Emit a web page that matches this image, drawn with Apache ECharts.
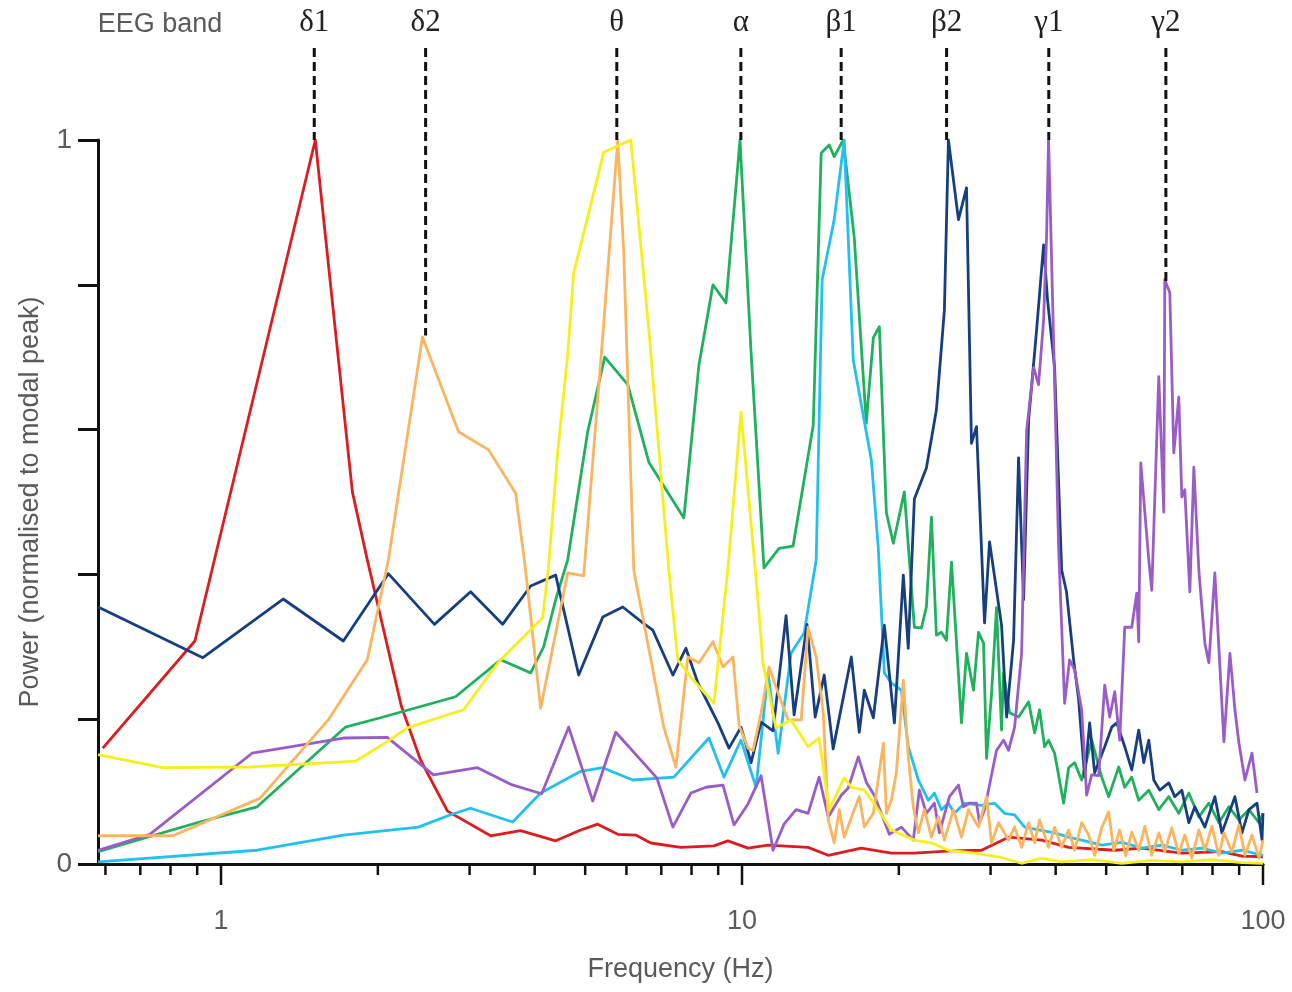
<!DOCTYPE html>
<html>
<head>
<meta charset="utf-8">
<title>EEG band spectra</title>
<script src="https://cdn.jsdelivr.net/npm/echarts@6/dist/echarts.min.js"></script>
<style>
  html, body { margin: 0; padding: 0; background: #fff; }
  #chart { width: 1292px; height: 992px; }
</style>
</head>
<body>
<div id="chart"></div>
<script>
// frequency (Hz) and normalised power, one pair of arrays per trace
const redHz = [0.593, 0.891, 1.517, 1.787, 1.909, 2.219, 2.414, 2.721, 3.292, 3.758, 4.389, 4.902, 5.285, 5.774, 6.254, 6.683, 7.632, 8.833, 9.398, 10.27, 11.22, 13.39, 14.64, 16.94, 19.35, 21.42, 25.24, 28.82, 32.48, 37.58, 42.35, 51.93, 58.52, 69.85, 83.4, 91.12, 100];
const redPow = [0.160, 0.308, 1.0, 0.514, 0.420, 0.218, 0.144, 0.073, 0.039, 0.046, 0.032, 0.047, 0.055, 0.041, 0.040, 0.029, 0.023, 0.025, 0.032, 0.022, 0.026, 0.023, 0.012, 0.022, 0.015, 0.015, 0.018, 0.019, 0.037, 0.033, 0.023, 0.019, 0.022, 0.015, 0.017, 0.011, 0.010];

const navyHz = [0.581, 0.923, 1.316, 1.717, 2.095, 2.568, 3.013, 3.471, 3.929, 4.389,
  4.859, 5.404, 5.904, 6.451, 6.742, 7.367, 7.803, 8.229, 8.991, 9.441,
  9.956, 10.41, 10.88, 11.47, 12.15, 12.59, 13.33, 13.82, 14.38, 14.96,
  16.21, 16.79, 17.17, 17.87, 18.76, 19.61, 20.40, 20.85, 21.42, 22.59,
  23.61, 24.46, 24.90, 26.03, 26.97, 27.57, 28.19, 29.21, 29.86, 31.49,
  32.20, 33.21, 33.95, 34.71, 35.49, 36.77, 37.92, 38.59, 39.81, 41.07,
  41.96, 43.30, 44.27, 45.47, 46.48, 47.52, 49.68, 51.24, 52.39, 54.28,
  55.99, 57.74, 59.04, 60.36, 61.71, 63.37, 65.94, 67.72, 69.85, 72.05,
  73.99, 77.34, 80.84, 83.40, 88.33, 91.12, 93.98, 97.38, 99.56, 100];
const navyPow = [0.355, 0.285, 0.366, 0.308, 0.401, 0.331, 0.376, 0.331, 0.384, 0.399,
  0.261, 0.341, 0.355, 0.333, 0.323, 0.261, 0.298, 0.250, 0.195, 0.160,
  0.189, 0.140, 0.196, 0.184, 0.343, 0.206, 0.331, 0.203, 0.261, 0.159,
  0.286, 0.182, 0.240, 0.202, 0.330, 0.195, 0.399, 0.298, 0.504, 0.547,
  0.627, 0.765, 1.0, 0.890, 0.934, 0.581, 0.604, 0.333, 0.445, 0.330,
  0.203, 0.309, 0.561, 0.365, 0.613, 0.738, 0.855, 0.779, 0.686, 0.406,
  0.376, 0.282, 0.227, 0.120, 0.195, 0.126, 0.162, 0.189, 0.195, 0.162,
  0.130, 0.185, 0.140, 0.171, 0.116, 0.102, 0.112, 0.093, 0.102, 0.057,
  0.079, 0.051, 0.093, 0.043, 0.093, 0.043, 0.075, 0.084, 0.033, 0.070];

const greenHz = [0.581, 0.899, 1.173, 1.732, 2.023, 2.819, 3.441, 3.929, 4.161, 4.389,
  4.628, 5.056, 5.451, 6.036, 6.624, 7.734, 8.266, 8.794, 9.316, 9.912,
  10.41, 11.02, 11.78, 12.53, 13.70, 14.19, 14.70, 15.03, 15.64, 16.42,
  17.32, 17.87, 18.35, 18.93, 19.52, 20.49, 21.42, 22.10, 22.59, 23.10,
  23.61, 24.14, 24.68, 25.24, 26.38, 26.97, 27.82, 28.44, 29.08, 29.47,
  30.13, 30.80, 31.49, 31.77, 32.63, 33.95, 35.49, 36.45, 37.25, 38.08,
  38.76, 39.81, 41.43, 42.35, 43.49, 44.87, 46.90, 49.02, 50.56, 52.85,
  54.28, 55.99, 57.74, 60.36, 63.09, 65.94, 68.92, 72.05, 75.31, 78.72,
  82.29, 86.01, 89.91, 93.98, 98.24, 100];
const greenPow = [0.017, 0.057, 0.079, 0.189, 0.202, 0.231, 0.282, 0.264, 0.300, 0.365,
  0.420, 0.597, 0.700, 0.662, 0.555, 0.478, 0.689, 0.800, 0.775, 1.0,
  0.706, 0.409, 0.436, 0.439, 0.606, 0.982, 0.993, 0.977, 1.0, 0.866,
  0.609, 0.727, 0.742, 0.485, 0.443, 0.514, 0.327, 0.326, 0.355, 0.479,
  0.316, 0.320, 0.309, 0.417, 0.195, 0.291, 0.240, 0.320, 0.305, 0.146,
  0.236, 0.354, 0.185, 0.264, 0.209, 0.203, 0.224, 0.181, 0.213, 0.162,
  0.171, 0.153, 0.084, 0.133, 0.140, 0.116, 0.171, 0.120, 0.093, 0.134,
  0.106, 0.120, 0.088, 0.102, 0.075, 0.093, 0.070, 0.098, 0.065, 0.084,
  0.057, 0.079, 0.061, 0.075, 0.057, 0.070];

const yellowHz = [0.581, 0.773, 1.137, 1.811, 2.085, 2.279, 2.638, 2.921, 3.411, 4.143,
  4.254, 4.427, 4.628, 4.752, 4.859, 5.428, 6.117, 6.624, 7.237, 7.530,
  7.978, 8.833, 9.398, 9.956, 10.73, 10.97, 11.62, 12.42, 13.39, 14.06,
  14.70, 15.71, 16.21, 17.17, 18.26, 19.35, 21.42, 23.10, 24.90, 27.94,
  31.07, 34.41, 37.58, 41.07, 46.90, 53.57, 61.17, 69.85, 79.78, 91.12, 100];
const yellowPow = [0.151, 0.133, 0.134, 0.142, 0.169, 0.188, 0.203, 0.213, 0.279, 0.340,
  0.412, 0.568, 0.703, 0.816, 0.844, 0.983, 1.0, 0.738, 0.406, 0.282,
  0.258, 0.222, 0.409, 0.624, 0.365, 0.278, 0.188, 0.199, 0.162, 0.174,
  0.075, 0.119, 0.106, 0.102, 0.075, 0.047, 0.033, 0.029, 0.019, 0.015,
  0.010, 0.001, 0.008, 0.003, 0.006, 0.001, 0.005, 0.003, 0.006, 0.002, 0.001];

const orangeHz = [0.581, 0.809, 1.189, 1.606, 1.909, 2.095, 2.436, 2.857, 3.263, 3.677,
  3.843, 4.107, 4.628, 4.967, 5.428, 5.774, 5.930, 6.198, 7.078, 7.466,
  7.872, 8.266, 8.794, 9.193, 9.609, 9.868, 10.27, 10.50, 10.88, 11.27,
  11.73, 12.26, 12.99, 13.39, 13.88, 14.32, 14.64, 15.03, 15.37, 15.71,
  16.42, 16.79, 17.17, 17.87, 18.68, 18.93, 19.35, 19.78, 20.40, 20.85,
  21.32, 21.80, 22.39, 23.10, 23.82, 24.46, 25.46, 26.38, 27.21, 28.44,
  29.47, 30.13, 31.07, 32.48, 33.36, 34.41, 35.49, 36.45, 37.25, 38.76,
  39.81, 41.07, 42.35, 43.49, 44.87, 46.28, 47.52, 49.02, 50.56, 51.70,
  53.09, 54.51, 55.99, 57.74, 59.30, 61.17, 63.09, 64.79, 66.83, 68.92,
  70.78, 73.02, 75.31, 77.34, 79.78, 82.29, 84.14, 87.17, 89.91, 92.33,
  95.25, 98.24, 100];
const orangePow = [0.039, 0.039, 0.091, 0.199, 0.282, 0.420, 0.728, 0.597, 0.572, 0.512,
  0.406, 0.215, 0.402, 0.398, 0.747, 1.0, 0.844, 0.406, 0.189, 0.134,
  0.286, 0.278, 0.307, 0.272, 0.286, 0.192, 0.160, 0.157, 0.209, 0.272,
  0.236, 0.199, 0.199, 0.327, 0.286, 0.209, 0.061, 0.029, 0.075, 0.037,
  0.075, 0.093, 0.051, 0.070, 0.167, 0.070, 0.088, 0.126, 0.254, 0.148,
  0.079, 0.043, 0.075, 0.037, 0.065, 0.033, 0.075, 0.037, 0.075, 0.051,
  0.093, 0.029, 0.057, 0.033, 0.051, 0.023, 0.057, 0.029, 0.061, 0.023,
  0.051, 0.023, 0.047, 0.019, 0.057, 0.040, 0.012, 0.050, 0.072, 0.019,
  0.047, 0.011, 0.044, 0.019, 0.052, 0.012, 0.043, 0.017, 0.050, 0.014,
  0.040, 0.008, 0.047, 0.019, 0.052, 0.012, 0.043, 0.017, 0.054, 0.012,
  0.040, 0.008, 0.033];

const cyanHz = [0.581, 1.173, 1.717, 2.393, 2.757, 3.013, 3.629, 4.107, 4.902, 5.404,
  6.171, 7.399, 8.640, 9.233, 9.956, 10.64, 11.22, 11.73, 12.42, 13.16,
  13.88, 14.25, 15.03, 15.71, 16.35, 17.71, 18.26, 18.76, 19.35, 20.23,
  20.85, 21.80, 22.79, 23.40, 24.14, 24.90, 25.57, 26.73, 28.82, 30.53,
  31.91, 33.36, 34.87, 37.08, 39.81, 42.35, 44.87, 49.02, 53.57, 58.52,
  63.94, 69.85, 76.32, 83.40, 91.12, 100];
const cyanPow = [0.003, 0.019, 0.040, 0.051, 0.068, 0.077, 0.058, 0.098, 0.128, 0.133,
  0.116, 0.120, 0.174, 0.120, 0.171, 0.106, 0.264, 0.153, 0.291, 0.319,
  0.420, 0.807, 0.890, 1.0, 0.696, 0.558, 0.438, 0.264, 0.250, 0.240,
  0.162, 0.116, 0.088, 0.098, 0.075, 0.084, 0.070, 0.084, 0.081, 0.084,
  0.070, 0.068, 0.051, 0.047, 0.043, 0.037, 0.033, 0.026, 0.030, 0.022,
  0.026, 0.019, 0.022, 0.015, 0.019, 0.012];

const purpleHz = [0.581, 0.730, 1.147, 1.717, 2.085, 2.557, 3.107, 3.597, 4.125, 4.648,
  5.170, 5.724, 6.863, 7.367, 7.978, 8.527, 9.193, 9.652, 10.27, 10.88,
  11.47, 12.04, 12.70, 13.39, 14.06, 14.64, 15.51, 15.99, 16.72, 17.32,
  17.94, 19.18, 20.23, 21.32, 21.90, 22.59, 23.40, 23.93, 25.01, 26.03,
  26.61, 27.33, 28.19, 28.57, 29.21, 30.80, 31.77, 32.48, 33.36, 34.41,
  35.18, 36.29, 37.08, 37.92, 38.43, 38.76, 39.11, 39.63, 40.52, 41.61,
  42.54, 43.49, 44.87, 45.87, 46.90, 48.37, 49.68, 50.79, 51.93, 53.09,
  54.28, 55.99, 57.24, 57.74, 58.26, 60.36, 61.17, 63.09, 64.51, 64.79,
  66.24, 67.42, 68.92, 69.85, 70.78, 72.37, 73.67, 75.31, 77.34, 78.72,
  80.84, 82.66, 84.14, 86.40, 88.33, 89.91, 92.33, 95.25, 97.38];
const purplePow = [0.019, 0.041, 0.153, 0.174, 0.175, 0.123, 0.133, 0.110, 0.097, 0.189,
  0.087, 0.182, 0.119, 0.051, 0.098, 0.106, 0.109, 0.054, 0.083, 0.122,
  0.019, 0.055, 0.075, 0.070, 0.120, 0.065, 0.095, 0.105, 0.148, 0.113,
  0.095, 0.041, 0.051, 0.033, 0.102, 0.070, 0.084, 0.043, 0.093, 0.109,
  0.079, 0.084, 0.084, 0.057, 0.075, 0.157, 0.171, 0.157, 0.189, 0.291,
  0.599, 0.686, 0.662, 0.751, 0.869, 1.0, 0.890, 0.724, 0.438, 0.222,
  0.282, 0.268, 0.213, 0.095, 0.123, 0.122, 0.247, 0.203, 0.238, 0.171,
  0.327, 0.327, 0.374, 0.307, 0.554, 0.420, 0.378, 0.673, 0.486, 0.807,
  0.789, 0.568, 0.645, 0.507, 0.517, 0.376, 0.548, 0.406, 0.305, 0.278,
  0.402, 0.272, 0.169, 0.291, 0.213, 0.167, 0.116, 0.153, 0.098];

// EEG band markers: name, centre frequency and the peak the dashed line drops to
const bandNames = ['δ1', 'δ2', 'θ', 'α', 'β1', 'β2', 'γ1', 'γ2'];
const bandHz = [1.51, 2.47, 5.75, 9.95, 15.5, 24.7, 38.8, 65.1];
const bandPeak = [1, 0.73, 1, 1, 1, 1, 1, 0.8];

// x axis ticks
const majorTicks = [1, 10, 100];
const minorTicks = [0.6, 0.7, 0.8, 0.9, 2, 3, 4, 5, 6, 7, 8, 9, 20, 30, 40, 50, 60, 70, 80, 90];

const sans = '"Liberation Sans", Arial, sans-serif';
const textGrey = '#5a5a5a';

function pairs(hz, pow) {
  return hz.map((f, i) => [f, pow[i]]);
}

function spectrum(name, hz, pow, color) {
  return {
    name: name,
    type: 'line',
    data: pairs(hz, pow),
    symbol: 'none',
    showSymbol: false,
    lineStyle: { color: color, width: 2.8, join: 'round' },
    itemStyle: { color: color },
    z: 3
  };
}

const chart = echarts.init(document.getElementById('chart'));

const option = {
  animation: false,
  backgroundColor: '#fff',
  grid: { left: 98, right: 29, top: 140, bottom: 128 },
  xAxis: {
    type: 'log',
    logBase: 10,
    min: 0.5806,
    max: 100,
    axisLine: { show: true, onZero: false, lineStyle: { color: '#111', width: 3 } },
    axisTick: { show: false },
    splitLine: { show: false },
    axisLabel: {
      margin: 44,
      fontSize: 27,
      fontFamily: sans,
      color: textGrey,
      formatter: function (v) {
        const hit = majorTicks.find(m => Math.abs(v - m) < m * 1e-6);
        return hit ? String(hit) : '';
      }
    },
    name: 'Frequency (Hz)',
    nameLocation: 'middle',
    nameGap: 92,
    nameTextStyle: { fontSize: 27, fontFamily: sans, color: textGrey }
  },
  yAxis: {
    type: 'value',
    min: 0,
    max: 1,
    interval: 0.2,
    axisLine: { show: true, onZero: false, lineStyle: { color: '#111', width: 3 } },
    axisTick: { show: true, length: 20, lineStyle: { color: '#111', width: 3 } },
    splitLine: { show: false },
    axisLabel: {
      margin: 26,
      fontSize: 28,
      fontFamily: sans,
      color: textGrey,
      formatter: function (v) {
        return (v === 0 || v === 1) ? String(v) : '';
      }
    },
    name: 'Power (normalised to modal peak)',
    nameLocation: 'middle',
    nameRotate: 90,
    nameGap: 54,
    nameTextStyle: { fontSize: 27, fontFamily: sans, color: textGrey }
  },
  graphic: [{
    type: 'text',
    x: 160,
    y: 25,
    style: {
      text: 'EEG band',
      font: '27px ' + sans,
      fill: textGrey,
      align: 'center',
      verticalAlign: 'middle'
    }
  }],
  series: [
    spectrum('red', redHz, redPow, '#dc1c1f'),
    spectrum('green', greenHz, greenPow, '#1fb15c'),
    spectrum('cyan', cyanHz, cyanPow, '#22c0ef'),
    spectrum('navy', navyHz, navyPow, '#173f80'),
    spectrum('purple', purpleHz, purplePow, '#9a5cc6'),
    spectrum('orange', orangeHz, orangePow, '#fbb55f'),
    spectrum('yellow', yellowHz, yellowPow, '#f6ef1e'),
    {
      // log-axis ticks: long at decades, short in between
      type: 'custom',
      silent: true,
      clip: false,
      z: 1,
      data: minorTicks.concat(majorTicks).map(f => [f, 0]),
      renderItem: function (params, api) {
        const f = api.value(0);
        const p = api.coord([f, 0]);
        const len = majorTicks.indexOf(f) >= 0 ? 21 : 11;
        return {
          type: 'line',
          shape: { x1: p[0], y1: p[1], x2: p[0], y2: p[1] + len },
          style: { stroke: '#111', lineWidth: 2.5 }
        };
      }
    },
    {
      // dashed band markers with their labels above the plot
      type: 'custom',
      silent: true,
      clip: false,
      z: 5,
      data: bandHz.map((f, i) => [f, bandPeak[i]]),
      renderItem: function (params, api) {
        const f = api.value(0);
        const bottom = api.coord([f, api.value(1)]);
        const top = api.coord([f, 1])[1] - 92;
        return {
          type: 'group',
          children: [
            {
              type: 'line',
              shape: { x1: bottom[0], y1: top, x2: bottom[0], y2: bottom[1] },
              style: { stroke: '#111', lineWidth: 3, lineDash: [9, 5] }
            },
            {
              type: 'text',
              x: bottom[0],
              y: top - 25,
              style: {
                text: bandNames[params.dataIndex],
                font: '31px "Liberation Serif", "DejaVu Serif", serif',
                fill: '#222',
                align: 'center',
                verticalAlign: 'middle'
              }
            }
          ]
        };
      }
    }
  ]
};

chart.setOption(option);
</script>
</body>
</html>
